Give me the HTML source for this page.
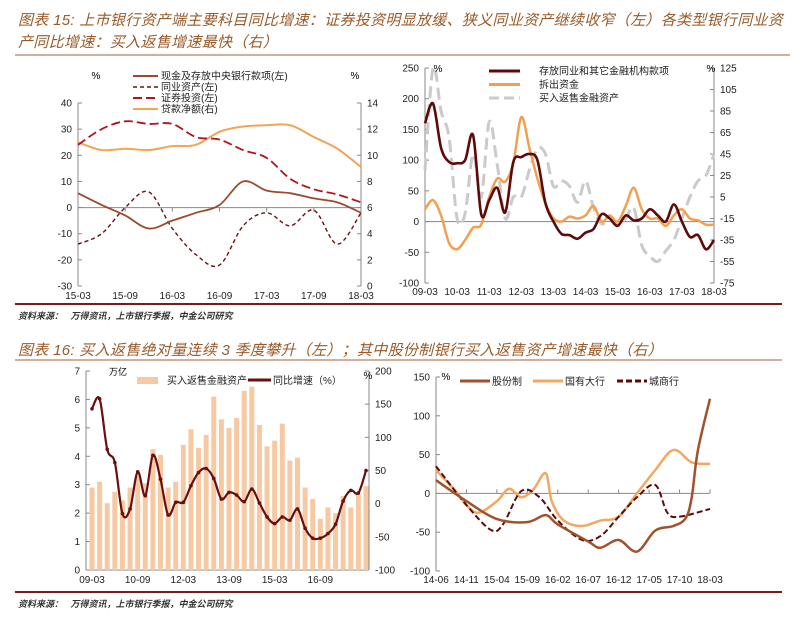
<!DOCTYPE html>
<html><head><meta charset="utf-8">
<style>
body{margin:0;background:#fff;width:805px;height:619px;overflow:hidden;position:relative;font-family:"Liberation Sans","Noto Sans CJK SC",sans-serif}
.t{position:absolute;left:18px;color:#9a5a28;font-style:italic;font-size:15px;letter-spacing:0.3px;white-space:nowrap}
.src{position:absolute;left:18px;font-size:9px;font-weight:bold;font-style:italic;color:#333}
svg{position:absolute;left:0;top:0}
</style></head><body>
<div class="t" style="top:10px;line-height:22px">图表 15: 上市银行资产端主要科目同比增速：证券投资明显放缓、狭义同业资产继续收窄（左）各类型银行同业资<br>产同比增速：买入返售增速最快（右）</div>
<div class="src" style="top:309px">资料来源：&nbsp;&nbsp; 万得资讯，上市银行季报，中金公司研究</div>
<div class="t" style="top:339px">图表 16: 买入返售绝对量连续 3 季度攀升（左）；其中股份制银行买入返售资产增速最快（右）</div>
<div class="src" style="top:597px">资料来源：&nbsp;&nbsp; 万得资讯，上市银行季报，中金公司研究</div>
<svg id="s" width="805" height="619" font-family="Liberation Sans, Noto Sans CJK SC, sans-serif" font-size="10">
<line x1="15" y1="55" x2="790" y2="55" stroke="#a0603a" stroke-width="1"/>
<line x1="15" y1="304" x2="782" y2="304" stroke="#7a1a1a" stroke-width="2"/>
<line x1="15" y1="360" x2="782" y2="360" stroke="#a0603a" stroke-width="1"/>
<line x1="15" y1="592" x2="782" y2="592" stroke="#7a1a1a" stroke-width="2"/>
</svg>
<script>
// ---- Chart 1 data (quarterly 15-03..18-03)
const c1Ticks=['15-03','15-09','16-03','16-09','17-03','17-09','18-03'];
const c1Cash=[5.5,1,-3,-8,-5,-2,1,10,6.5,5.5,3.5,2,-2];
const c1Interbank=[-14,-10,0,6,-8,-18,-22,-7,-2,-7,-1,-14,-2];
const c1Securities=[24,30,33,32,32,27,26,22,19,11,7,5,2];
const c1Loans=[11,10.4,10.5,10.4,10.7,10.8,11.8,12.2,12.3,12.3,11.4,10.5,9.1];
// ---- Chart 2 data (quarterly 09-03..18-03)
const c2Ticks=['09-03','10-03','11-03','12-03','13-03','14-03','15-03','16-03','17-03','18-03'];
const c2Deposits=[160,192,120,97,95,100,140,12,35,55,15,97,105,110,100,30,0,-20,-22,-28,-18,-12,12,5,-7,10,2,5,20,10,0,28,0,-25,-22,-45,-30];
const c2Lending=[20,35,10,-35,-45,-30,-10,-5,40,70,65,95,170,120,70,30,5,0,8,5,10,25,0,10,0,25,55,20,5,5,-7,10,20,5,2,-5,-5];
const c2Reverse=[30,125,85,60,-15,-10,45,5,75,35,-15,5,5,30,50,45,15,20,15,0,20,-5,-20,-15,-20,-15,-5,-40,-50,-55,-45,-35,-15,5,20,25,45];
// ---- Chart 3 data (quarterly 09-03..18-03)
const c3Ticks=['09-03','10-09','12-03','13-09','15-03','16-09'];
const c3Amount=[2.9,3.1,2.35,2.75,2.45,2.9,3.3,3.05,4.25,4.05,2.9,3.1,4.4,4.95,4.3,4.75,6.1,5.3,5.0,5.35,6.3,6.45,5.1,4.35,4.55,5.15,3.85,3.95,2.9,2.5,1.8,2.2,2.0,2.6,2.2,2.65,2.95];
const c3Growth=[143,158,82,62,-15,-8,48,12,73,37,-17,2,2,27,47,53,38,7,17,13,3,22,1,-20,-30,-20,-25,-8,-37,-52,-52,-45,-31,4,20,16,50];
// ---- Chart 4 data (months since 14-06)
const c4Ticks=['14-06','14-11','15-04','15-09','16-02','16-07','16-12','17-05','17-10','18-03'];
const c4JointM=[0,5,10,15,18,20,25,27,30,33,36,39,41,42,43,45];
const c4Joint=[17,-10,-33,-37,-28,-40,-62,-70,-60,-75,-48,-42,-32,-5,55,122];
const c4StateM=[0,3,5,7,10,12,14,16,18,19,21,24,27,30,33,36,39,42,45];
const c4State=[30,5,-15,-25,-10,6,-5,5,26,-10,-35,-42,-35,-30,0,30,56,40,38];
const c4CityM=[0,5,9,11,14,17,20,24,27,30,33,36,38,40,45];
const c4City=[35,-15,-47,-40,3,-5,-35,-60,-55,-30,-5,11,-25,-30,-20];

const S=document.getElementById('s');const NS='http://www.w3.org/2000/svg';
function mk(t,a,name,txt){const e=document.createElementNS(NS,t);for(const k in a)e.setAttribute(k,a[k]);


if(txt!==undefined)e.textContent=txt;S.appendChild(e);return e;}
function lin(d0,d1,r0,r1){return v=>r0+(v-d0)/(d1-d0)*(r1-r0);}
function smooth(p){let d='M'+p[0][0]+','+p[0][1];for(let i=0;i<p.length-1;i++){const a=p[i-1]||p[i],b=p[i],c=p[i+1],e=p[i+2]||c;
d+=' C'+(b[0]+(c[0]-a[0])/6)+','+(b[1]+(c[1]-a[1])/6)+' '+(c[0]-(e[0]-b[0])/6)+','+(c[1]-(e[1]-b[1])/6)+' '+c[0]+','+c[1];}return d;}
function series(xs,vals,xf,yf,st,name){const p=vals.map((v,i)=>[xf(xs[i]),yf(v)]);const a=Object.assign({d:smooth(p),fill:'none'},st);return mk('path',a,name);}
function yAxis(x,ticks,yf,anchorRight,name,tick){mk('line',{x1:x,y1:yf(ticks[0]),x2:x,y2:yf(ticks[ticks.length-1]),stroke:'#888'},name+'-line');
ticks.forEach(t=>{mk('line',{x1:x,x2:x+(anchorRight?-tick:tick),y1:yf(t),y2:yf(t),stroke:'#888'},name+'-tick');
mk('text',{x:anchorRight?x-6:x+6,y:yf(t)+3.5,'text-anchor':anchorRight?'end':'start',fill:'#222'},name+'-label',t);});}
const idx=n=>[...Array(n).keys()];

// ===== Chart 1
(function(){const x=lin(0,12,78,361),yl=lin(-30,40,286,103),yr=lin(0,14,286,103);
yAxis(78,[40,30,20,10,0,-10,-20,-30],yl,true,'c1-left-axis',-4);
yAxis(361,[14,12,10,8,6,4,2,0],yr,false,'c1-right-axis',-4);
mk('line',{x1:78,x2:361,y1:yl(0),y2:yl(0),stroke:'#888'},'c1-zero-line');
c1Ticks.forEach((t,i)=>{const xx=x(i*2);mk('line',{x1:xx,x2:xx,y1:yl(0),y2:yl(0)+4,stroke:'#888'},'c1-x-tick');mk('text',{x:xx,y:299,'text-anchor':'middle',fill:'#222'},'c1-x-label',t);});
const q=idx(13);
series(q,c1Loans,x,yr,{stroke:'#F2A555','stroke-width':2},'c1-loans-line');
series(q,c1Securities,x,yl,{stroke:'#B0141E','stroke-width':1.8,'stroke-dasharray':'9,4'},'c1-securities-line');
series(q,c1Interbank,x,yl,{stroke:'#6a1010','stroke-width':1.4,'stroke-dasharray':'4,3'},'c1-interbank-line');
series(q,c1Cash,x,yl,{stroke:'#9C4A2E','stroke-width':1.8},'c1-cash-line');
mk('text',{x:96,y:79,'text-anchor':'middle'},'c1-left-unit','%');mk('text',{x:355,y:79,'text-anchor':'middle'},'c1-right-unit','%');
const L=[['现金及存放中央银行款项(左)',{stroke:'#9C4A2E','stroke-width':2}],['同业资产(左)',{stroke:'#6a1010','stroke-width':1.6,'stroke-dasharray':'4,3'}],['证券投资(左)',{stroke:'#B0141E','stroke-width':2,'stroke-dasharray':'9,4'}],['贷款净额(右)',{stroke:'#F2A555','stroke-width':2}]];
L.forEach((l,i)=>{const y=76+i*11;mk('line',Object.assign({x1:133,x2:158,y1:y,y2:y},l[1]),'c1-legend-swatch');mk('text',{x:161,y:y+3.5,fill:'#222'},'c1-legend-entry',l[0]);});
})();

// ===== Chart 2
(function(){const x=lin(0,36,425,714),yl=lin(-100,250,283,68),yr=lin(-75,125,283,68);
yAxis(425,[250,200,150,100,50,0,-50,-100],yl,true,'c2-left-axis',-4);
yAxis(714,[125,105,85,65,45,25,5,-15,-35,-55,-75],yr,false,'c2-right-axis',-4);
mk('line',{x1:425,x2:714,y1:yl(0),y2:yl(0),stroke:'#888'},'c2-zero-line');
c2Ticks.forEach((t,i)=>{const xx=x(i*4);mk('text',{x:xx,y:295,'text-anchor':'middle',fill:'#222'},'c2-x-label',t);});
const q=idx(37);
series(q,c2Reverse,x,yr,{stroke:'#CACACA','stroke-width':3,'stroke-dasharray':'12,6'},'c2-reverse-repo-line');
series(q,c2Lending,x,yl,{stroke:'#F2A050','stroke-width':2.5},'c2-interbank-lending-line');
series(q,c2Deposits,x,yl,{stroke:'#5C0A0A','stroke-width':2.6},'c2-interbank-deposits-line');
mk('text',{x:438,y:72,'text-anchor':'middle'},'c2-left-unit','%');mk('text',{x:711,y:72,'text-anchor':'middle'},'c2-right-unit','%');
const L=[['存放同业和其它金融机构款项',{stroke:'#5C0A0A','stroke-width':3}],['拆出资金',{stroke:'#F2A050','stroke-width':3}],['买入返售金融资产',{stroke:'#CACACA','stroke-width':3,'stroke-dasharray':'10,5'}]];
L.forEach((l,i)=>{const y=71+i*13.5;mk('line',Object.assign({x1:489,x2:520,y1:y,y2:y},l[1]),'c2-legend-swatch');mk('text',{x:539,y:y+3.5,fill:'#222'},'c2-legend-entry',l[0]);});
})();

// ===== Chart 3
(function(){const x=lin(0,36,92,366),yl=lin(0,7,570,371),yr=lin(-100,200,570,371);
yAxis(86,[0,1,2,3,4,5,6,7],yl,true,'c3-left-axis',-4);
yAxis(369,[-100,-50,0,50,100,150,200],yr,false,'c3-right-axis',-4);
mk('line',{x1:86,x2:369,y1:570,y2:570,stroke:'#888'},'c3-x-axis');
c3Amount.forEach((v,i)=>{mk('rect',{x:x(i)-2.5,y:yl(v),width:5,height:570-yl(v),fill:'#F7C9A2'},'c3-bar');});
c3Ticks.forEach((t,i)=>{mk('text',{x:x(i*6),y:583,'text-anchor':'middle',fill:'#222'},'c3-x-label',t);});
const q=idx(37);
series(q,c3Growth,x,yr,{stroke:'#6B0E0E','stroke-width':2.2},'c3-growth-line');
c3Growth.forEach((v,i)=>mk('circle',{cx:x(i),cy:yr(v),r:1.8,fill:'#6B0E0E'},'c3-growth-point'));
mk('text',{x:118,y:375,'text-anchor':'middle','font-size':9},'c3-left-unit','万亿');mk('text',{x:368,y:379,'text-anchor':'middle'},'c3-right-unit','%');
mk('rect',{x:137,y:377,width:21,height:7,fill:'#F7C9A2'},'c3-legend-swatch');mk('text',{x:167,y:384,fill:'#222'},'c3-legend-entry','买入返售金融资产');
mk('line',{x1:248,x2:271,y1:380,y2:380,stroke:'#6B0E0E','stroke-width':3},'c3-legend-swatch');mk('text',{x:273,y:384,fill:'#222'},'c3-legend-entry','同比增速（%）');
})();

// ===== Chart 4
(function(){const x=lin(0,45,436,710),y=lin(-100,150,571,377);
yAxis(436,[150,100,50,0,-50,-100],y,true,'c4-y-axis',-4);
mk('line',{x1:436,x2:710,y1:y(0),y2:y(0),stroke:'#888'},'c4-zero-line');
c4Ticks.forEach((t,i)=>{const xx=x(i*5);mk('line',{x1:xx,x2:xx,y1:y(0),y2:y(0)-4,stroke:'#888'},'c4-x-tick');mk('text',{x:xx,y:583,'text-anchor':'middle',fill:'#222'},'c4-x-label',t);});
series(c4StateM,c4State,x,y,{stroke:'#F2A860','stroke-width':2.5},'c4-state-banks-line');
series(c4CityM,c4City,x,y,{stroke:'#5C0A0A','stroke-width':2,'stroke-dasharray':'6,3'},'c4-city-banks-line');
series(c4JointM,c4Joint,x,y,{stroke:'#A0522D','stroke-width':2.5},'c4-joint-stock-line');
mk('text',{x:446,y:380,'text-anchor':'middle'},'c4-unit','%');
const L=[['股份制',460,{stroke:'#A0522D','stroke-width':3}],['国有大行',533,{stroke:'#F2A860','stroke-width':3}],['城商行',617,{stroke:'#5C0A0A','stroke-width':3,'stroke-dasharray':'6,3'}]];
L.forEach(l=>{mk('line',Object.assign({x1:l[1],x2:l[1]+30,y1:381,y2:381},l[2]),'c4-legend-swatch');mk('text',{x:l[1]+32,y:385,fill:'#222'},'c4-legend-entry',l[0]);});
})();
</script>
</body></html>
